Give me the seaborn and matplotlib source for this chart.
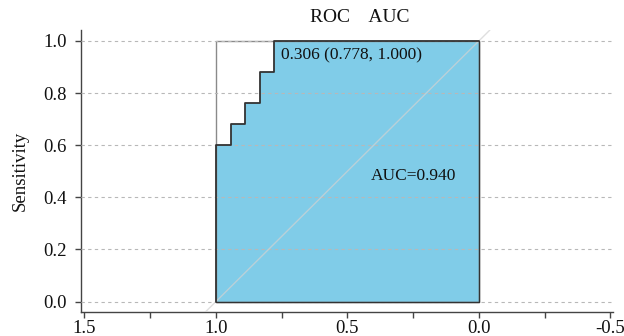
import matplotlib
matplotlib.use("Agg")
import matplotlib.pyplot as plt
import seaborn as sns
import pandas as pd
from matplotlib.ticker import MultipleLocator
from matplotlib.patches import Rectangle

# ROC curve step points (specificity, sensitivity)
specificity = [1.0, 1.0, 0.944, 0.944, 0.889, 0.889, 0.833, 0.833, 0.778, 0.778, 0.0]
sensitivity = [0.0, 0.6, 0.6, 0.68, 0.68, 0.76, 0.76, 0.88, 0.88, 1.0, 1.0]
best_threshold = 0.306
best_point = (0.778, 1.000)
auc_value = 0.940
title_text = "ROC    AUC"
y_label = "Sensitivity"
x_ticks = [1.5, 1.0, 0.5, 0.0, -0.5]
y_ticks = [0.0, 0.2, 0.4, 0.6, 0.8, 1.0]

df = pd.DataFrame({"Specificity": specificity, "Sensitivity": sensitivity})

sns.set_theme(style="white")
plt.rcParams["font.family"] = ["Liberation Serif", "DejaVu Serif"]

fig = plt.figure(figsize=(6.24, 3.36), dpi=100)
ax = fig.add_axes([81 / 624, 1 - 312 / 336, (613 - 81) / 624, (312 - 30) / 336])

fill_color = "#80CCE8"
# shaded AUC
ax.fill_between(df["Specificity"], df["Sensitivity"], 0, color=fill_color,
                linewidth=0, zorder=1)
# edges of filled area (bottom and right)
ax.plot([1.0, 0.0, 0.0], [0.0, 0.0, 1.0], color="#333333", lw=1.0, zorder=4)
# grey unit square outline
ax.add_patch(Rectangle((0, 0), 1, 1, fill=False, edgecolor="#8a8a8a", lw=1.0, zorder=2))

# grid
for yv in y_ticks:
    ax.axhline(yv, color="#b8b8b8", lw=0.8, ls=(0, (3, 3)), zorder=3)

# diagonal
ax.axline((1, 0), (0, 1), color="#d2d2d2", lw=1.0, alpha=0.7, zorder=3)

# ROC curve
sns.lineplot(data=df, x="Specificity", y="Sensitivity", sort=False, estimator=None,
             color="#333333", lw=1.3, ax=ax, zorder=5)

ax.text(0.752, 0.946, f"{best_threshold:.3f} ({best_point[0]:.3f}, {best_point[1]:.3f})",
        ha="left", va="center", fontsize=12.5, color="#111111", zorder=6)
ax.text(0.248, 0.48, f"AUC={auc_value:.3f}", ha="center", va="center",
        fontsize=12.5, color="#111111", zorder=6)

ax.set_xlim(1.513, -0.51)
ax.set_ylim(-0.04, 1.042)
ax.set_xticks(x_ticks)
ax.set_xticklabels([f"{v:.1f}" for v in x_ticks])
ax.xaxis.set_minor_locator(MultipleLocator(0.25))
ax.set_yticks(y_ticks)
ax.set_yticklabels([f"{v:.1f}" for v in y_ticks])
ax.set_xlabel("")
ax.set_ylabel(y_label, fontsize=13.5, labelpad=11, color="#111111")
fig.text(360 / 624, 1 - 18 / 336, title_text, fontsize=14, ha="center", va="center",
         color="#111111")

for s in ["top", "right"]:
    ax.spines[s].set_visible(False)
for s in ["left", "bottom"]:
    ax.spines[s].set_color("#444444")
    ax.spines[s].set_linewidth(1.0)
ax.tick_params(axis="both", which="both", direction="out", length=4, width=1.0,
               color="#444444", labelsize=13.5, labelcolor="#111111", pad=2,
               bottom=True, left=True)
ax.tick_params(axis="y", pad=6)
ax.tick_params(axis="x", which="minor", length=4)

fig.savefig("out.png", dpi=100)
